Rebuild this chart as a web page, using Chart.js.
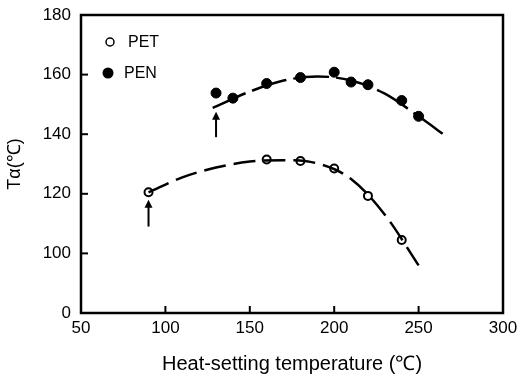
<!DOCTYPE html>
<html>
<head>
<meta charset="utf-8">
<script src="https://cdn.jsdelivr.net/npm/chart.js@4.4.0/dist/chart.umd.min.js"></script>
<style>
  html, body { margin: 0; padding: 0; background: #fff; }
  #wrap { width: 517px; height: 379px; }
</style>
</head>
<body>
<div id="wrap"><canvas id="chart" width="517" height="379"></canvas></div>
<script>
// Measured points
const petTemp = [90, 160, 180, 200, 220, 240];
const petTa = [120.5, 131.5, 131, 128.5, 119.3, 104.5];
const penTemp = [130, 140, 160, 180, 200, 210, 220, 240, 250];
const penTa = [153.8, 152.1, 157, 159, 160.8, 157.5, 156.6, 151.3, 146];

// Fitted curves
const petCurveTemp = [90, 110, 130, 150, 170, 190, 210, 230, 250];
const petCurveTa = [120.5, 125.5, 128.8, 130.8, 131.3, 130.2, 125, 113, 96];
const penCurveTemp = [128, 150, 170, 190, 210, 230, 250, 267];
const penCurveTa = [148.8, 154.3, 158, 159.4, 158, 153.6, 146, 139];

// Arrows marking the start of each curve
const arrowTemp = [90, 130];
const arrowFrom = [109, 139];
const arrowTo = [118, 147.5];

// Axis ticks
const xTicks = [50, 100, 150, 200, 250, 300];
const yTicks = [80, 100, 120, 140, 160, 180];
const yTickLabels = ['0', '100', '120', '140', '160', '180'];

const font = "'Liberation Sans', Arial, sans-serif";

function toPoints(xs, ys) {
    return xs.map((x, i) => ({ x: x, y: ys[i] }));
}

// Frame, inward ticks, arrows and legend
const decorPlugin = {
    id: 'decor',
    afterDatasetsDraw(chart) {
        const ctx = chart.ctx;
        const a = chart.chartArea;
        const xs = chart.scales.x;
        const ys = chart.scales.y;
        ctx.save();
        ctx.strokeStyle = '#000';
        ctx.fillStyle = '#000';
        ctx.lineWidth = 2.5;
        ctx.strokeRect(a.left, a.top, a.right - a.left, a.bottom - a.top);

        // inward ticks
        ctx.lineWidth = 2;
        xTicks.slice(1, -1).forEach(v => {
            const px = xs.getPixelForValue(v);
            ctx.beginPath();
            ctx.moveTo(px, a.bottom);
            ctx.lineTo(px, a.bottom - 7);
            ctx.stroke();
        });
        yTicks.slice(1, -1).forEach(v => {
            const py = ys.getPixelForValue(v);
            ctx.beginPath();
            ctx.moveTo(a.left, py);
            ctx.lineTo(a.left + 7, py);
            ctx.stroke();
        });

        // arrows
        for (let i = 0; i < arrowTemp.length; i++) {
            const px = xs.getPixelForValue(arrowTemp[i]);
            const y0 = ys.getPixelForValue(arrowFrom[i]);
            const y1 = ys.getPixelForValue(arrowTo[i]);
            ctx.beginPath();
            ctx.moveTo(px, y0);
            ctx.lineTo(px, y1 + 3);
            ctx.stroke();
            ctx.beginPath();
            ctx.moveTo(px, y1);
            ctx.lineTo(px - 4, y1 + 8);
            ctx.lineTo(px + 4, y1 + 8);
            ctx.closePath();
            ctx.fill();
        }

        // legend
        ctx.font = '16px ' + font;
        ctx.textBaseline = 'middle';
        ctx.lineWidth = 1.5;
        ctx.beginPath();
        ctx.arc(a.left + 29, a.top + 27, 4, 0, Math.PI * 2);
        ctx.stroke();
        ctx.fillText('PET', a.left + 47, a.top + 28);
        ctx.beginPath();
        ctx.arc(a.left + 27, a.top + 58, 5.5, 0, Math.PI * 2);
        ctx.fill();
        ctx.fillText('PEN', a.left + 43, a.top + 59);
        ctx.restore();
    }
};

const config = {
    type: 'scatter',
    data: {
        datasets: [
            {
                data: toPoints(petCurveTemp, petCurveTa),
                showLine: true,
                borderColor: '#000',
                borderWidth: 2.5,
                borderDash: [22, 8],
                pointRadius: 0,
                tension: 0.4,
                cubicInterpolationMode: 'monotone'
            },
            {
                data: toPoints(penCurveTemp, penCurveTa),
                showLine: true,
                borderColor: '#000',
                borderWidth: 2.5,
                borderDash: [36, 7],
                pointRadius: 0,
                tension: 0.4,
                cubicInterpolationMode: 'monotone'
            },
            {
                data: toPoints(petTemp, petTa),
                pointRadius: 4,
                pointBorderWidth: 2,
                pointBorderColor: '#000',
                pointBackgroundColor: '#fff'
            },
            {
                data: toPoints(penTemp, penTa),
                pointRadius: 5,
                pointBorderWidth: 1,
                pointBorderColor: '#000',
                pointBackgroundColor: '#000'
            }
        ]
    },
    options: {
        responsive: false,
        animation: false,
        layout: { padding: { top: 15, right: 14, left: 0, bottom: 0 } },
        plugins: {
            legend: { display: false },
            tooltip: { enabled: false }
        },
        scales: {
            x: {
                type: 'linear',
                min: 50,
                max: 300,
                afterBuildTicks: (scale) => { scale.ticks = xTicks.map(v => ({ value: v })); },
                afterFit: (scale) => {
                    scale.height = 66;
                    scale.paddingLeft = 0;
                    scale.paddingRight = 0;
                },
                grid: { display: false, drawTicks: false },
                border: { display: false },
                ticks: { color: '#000', font: { family: font, size: 17 }, padding: 5, maxRotation: 0 },
                title: {
                    display: true,
                    text: 'Heat-setting temperature (℃)',
                    color: '#000',
                    font: { family: font, size: 20 },
                    padding: { top: 0, bottom: 3 }
                }
            },
            y: {
                type: 'linear',
                min: 80,
                max: 180,
                afterBuildTicks: (scale) => { scale.ticks = yTicks.map(v => ({ value: v })); },
                afterFit: (scale) => {
                    scale.width = 81;
                    scale.paddingTop = 0;
                    scale.paddingBottom = 0;
                },
                grid: { display: false, drawTicks: false },
                border: { display: false },
                ticks: {
                    color: '#000',
                    font: { family: font, size: 17 },
                    padding: 10,
                    callback: (v) => yTickLabels[yTicks.indexOf(v)]
                },
                title: {
                    display: true,
                    text: 'Tα(℃)',
                    color: '#000',
                    font: { family: font, size: 18 },
                    padding: { top: 4, bottom: 0 }
                }
            }
        }
    },
    plugins: [decorPlugin]
};

new Chart(document.getElementById('chart').getContext('2d'), config);
</script>
</body>
</html>
